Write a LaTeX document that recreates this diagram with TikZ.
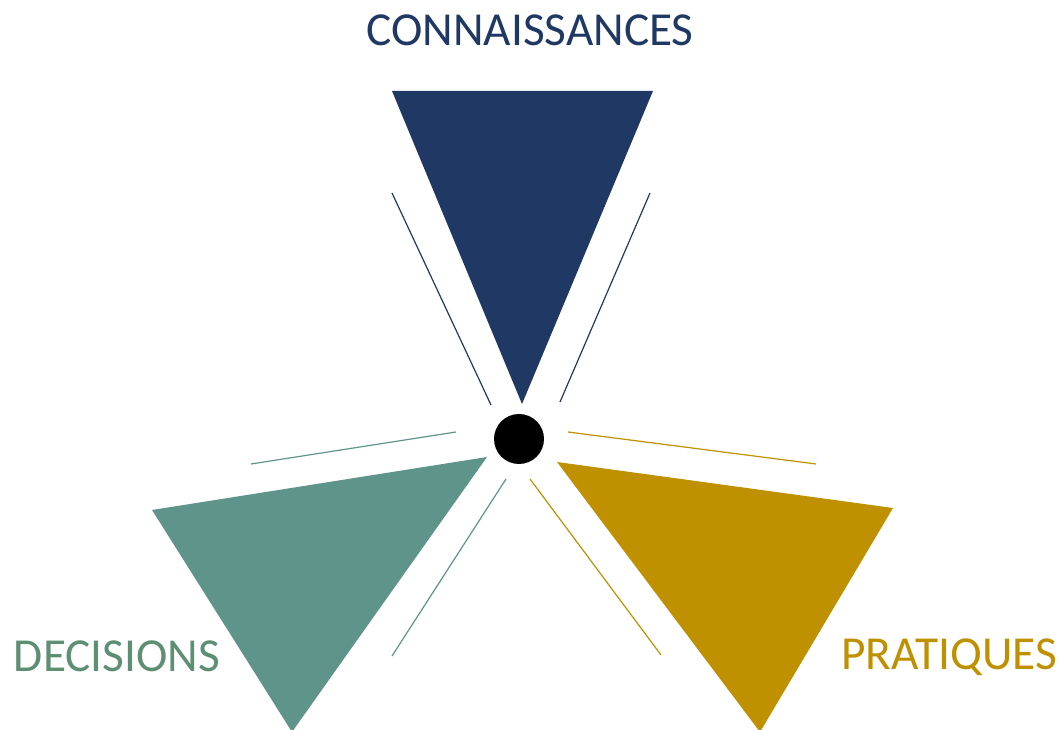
\documentclass[tikz,border=0pt]{standalone}
\usepackage{fontspec}
\setmainfont{Carlito}
\definecolor{navy}{HTML}{203864}
\definecolor{teal}{HTML}{5F948B}
\definecolor{tealtext}{HTML}{5C8F73}
\definecolor{gold}{HTML}{BF9000}
\begin{document}
\begin{tikzpicture}[x=0.75pt,y=-0.75pt,
  thinline/.style={line width=0.9pt},
  label/.style={inner sep=0pt,anchor=base,font=\fontsize{35.5}{40}\selectfont}]
\useasboundingbox (0,0) rectangle (1064,730);
% top
\fill[navy] (392,91) -- (653,91) -- (522,404) -- cycle;
\draw[navy,thinline] (392,193) -- (491,405);
\draw[navy,thinline] (650,193) -- (560,402);
% left
\fill[teal] (152,510) -- (487,457) -- (292,732) -- cycle;
\draw[teal,thinline] (251,464) -- (456,432);
\draw[teal,thinline] (506,479) -- (392,656);
% right
\fill[gold] (557,462) -- (893,508) -- (760,732) -- cycle;
\draw[gold,thinline] (568,432) -- (816,464);
\draw[gold,thinline] (530,479) -- (661,655);
% centre
\node[circle,fill=black,minimum size=50*0.75pt,inner sep=0pt] (hub) at (519,439) {};
% labels
\node[label,text=navy] (con) at (530,46) {CONNAISSANCES};
\node[label,text=tealtext] (dec) at (117,671) {DECISIONS};
\node[label,text=gold] (pra) at (949,669) {PRATIQUES};
\end{tikzpicture}
\end{document}
